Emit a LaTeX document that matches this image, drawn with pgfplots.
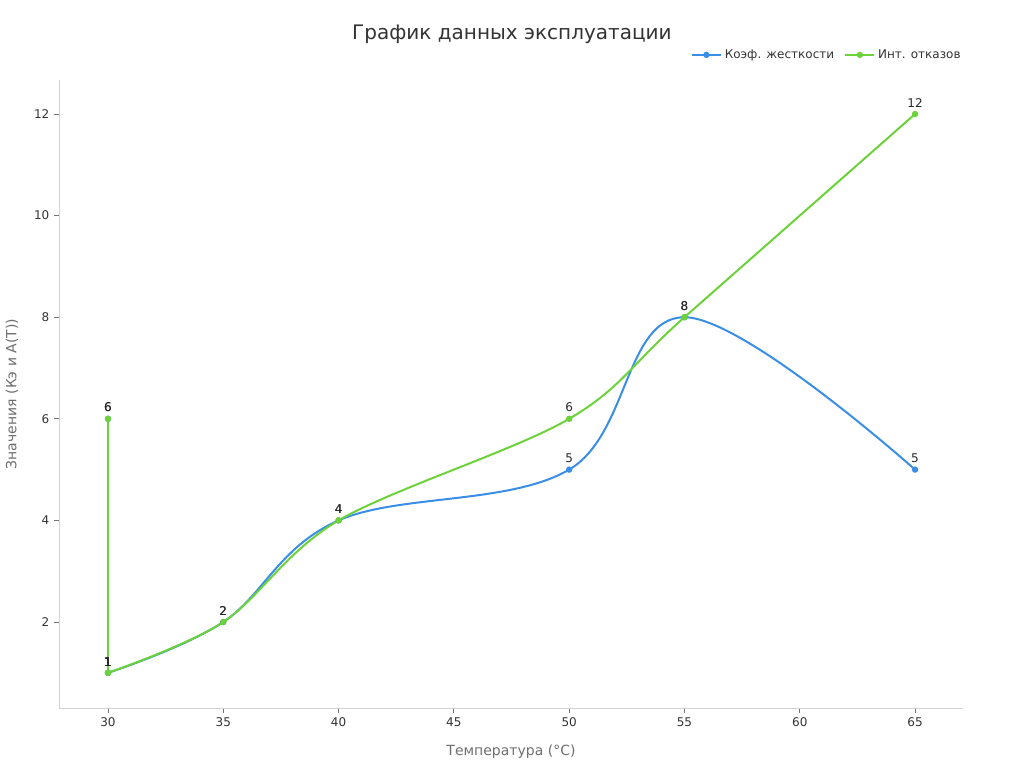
\documentclass[border=0pt]{standalone}
\usepackage{fontspec}
\setmainfont{DejaVu Sans}
\usepackage{pgfplots}
\pgfplotsset{compat=1.18}
\definecolor{cblue}{RGB}{58,142,230}
\definecolor{cgreen}{RGB}{108,210,58}
\definecolor{axgray}{RGB}{210,210,210}
\definecolor{txt}{RGB}{51,51,51}
\definecolor{lbl}{RGB}{110,110,110}
\begin{document}
\begin{tikzpicture}[x=0.75pt,y=0.75pt]
\path[use as bounding box] (-59,-60) rectangle (965,708);
\begin{axis}[
  at={(0,0)}, anchor=south west, scale only axis,
  width=678pt, height=471pt,
  xmin=27.875, xmax=67.08, ymin=0.307, ymax=12.67,
  axis x line*=bottom, axis y line*=left,
  axis line style={-, draw=axgray, line width=0.6pt},
  xtick={30,35,...,65}, ytick={2,4,...,12},
  tick align=outside, major tick length=3.75pt,
  tick style={draw=black!55, line width=0.6pt},
  tick label style={font=\fontsize{9}{11}\selectfont, text=txt},
  /pgf/number format/assume math mode=true,
  xlabel={Температура (°C)},
  ylabel={Значения (Кэ и A(T))},
  label style={font=\fontsize{10.5}{12}\selectfont, text=lbl},
  xlabel style={at={(axis description cs:0.5,-0.069)}, anchor=center},
  ylabel style={at={(axis description cs:-0.052,0.5)}, anchor=center, rotate=0},
  legend style={at={(axis description cs:1.005,1.040)}, anchor=east, draw=none, fill=none,
    font=\fontsize{9}{11}\selectfont, text=txt, legend columns=2,
    /tikz/every even column/.append style={column sep=5.5pt}},
  legend cell align=left,
  legend image code/.code={\draw[mark repeat=2,mark phase=2,#1] plot coordinates {(0pt,0pt) (11pt,0pt) (22pt,0pt)};},
  every node near coord/.append style={font=\fontsize{9}{11}\selectfont, text=black!85, yshift=1pt},
  clip=false,
]
% blue series
\addplot[cblue, line width=1.5pt, mark=*, mark size=1.6pt, forget plot, nodes near coords]
  coordinates {(30,6) (30,1)};
\addplot[cblue, line width=1.5pt, smooth, tension=0.62, mark=*, mark size=1.6pt, nodes near coords]
  coordinates {(30,1) (35,2) (40,4) (50,5) (55,8) (65,5)};
\addlegendentry{Коэф. жесткости}
% green series
\addplot[cgreen, line width=1.5pt, mark=*, mark size=1.6pt, forget plot, nodes near coords]
  coordinates {(30,6) (30,1)};
\addplot[cgreen, line width=1.5pt, smooth, tension=0.55, mark=*, mark size=1.6pt, nodes near coords]
  coordinates {(30,1) (35,2) (40,4) (50,6) (55,8) (65,12)};
\addlegendentry{Инт. отказов}
\node[font=\fontsize{15}{18}\selectfont, text=txt] at (axis description cs:0.501,1.072) {График данных эксплуатации};
\end{axis}
\end{tikzpicture}
\end{document}
